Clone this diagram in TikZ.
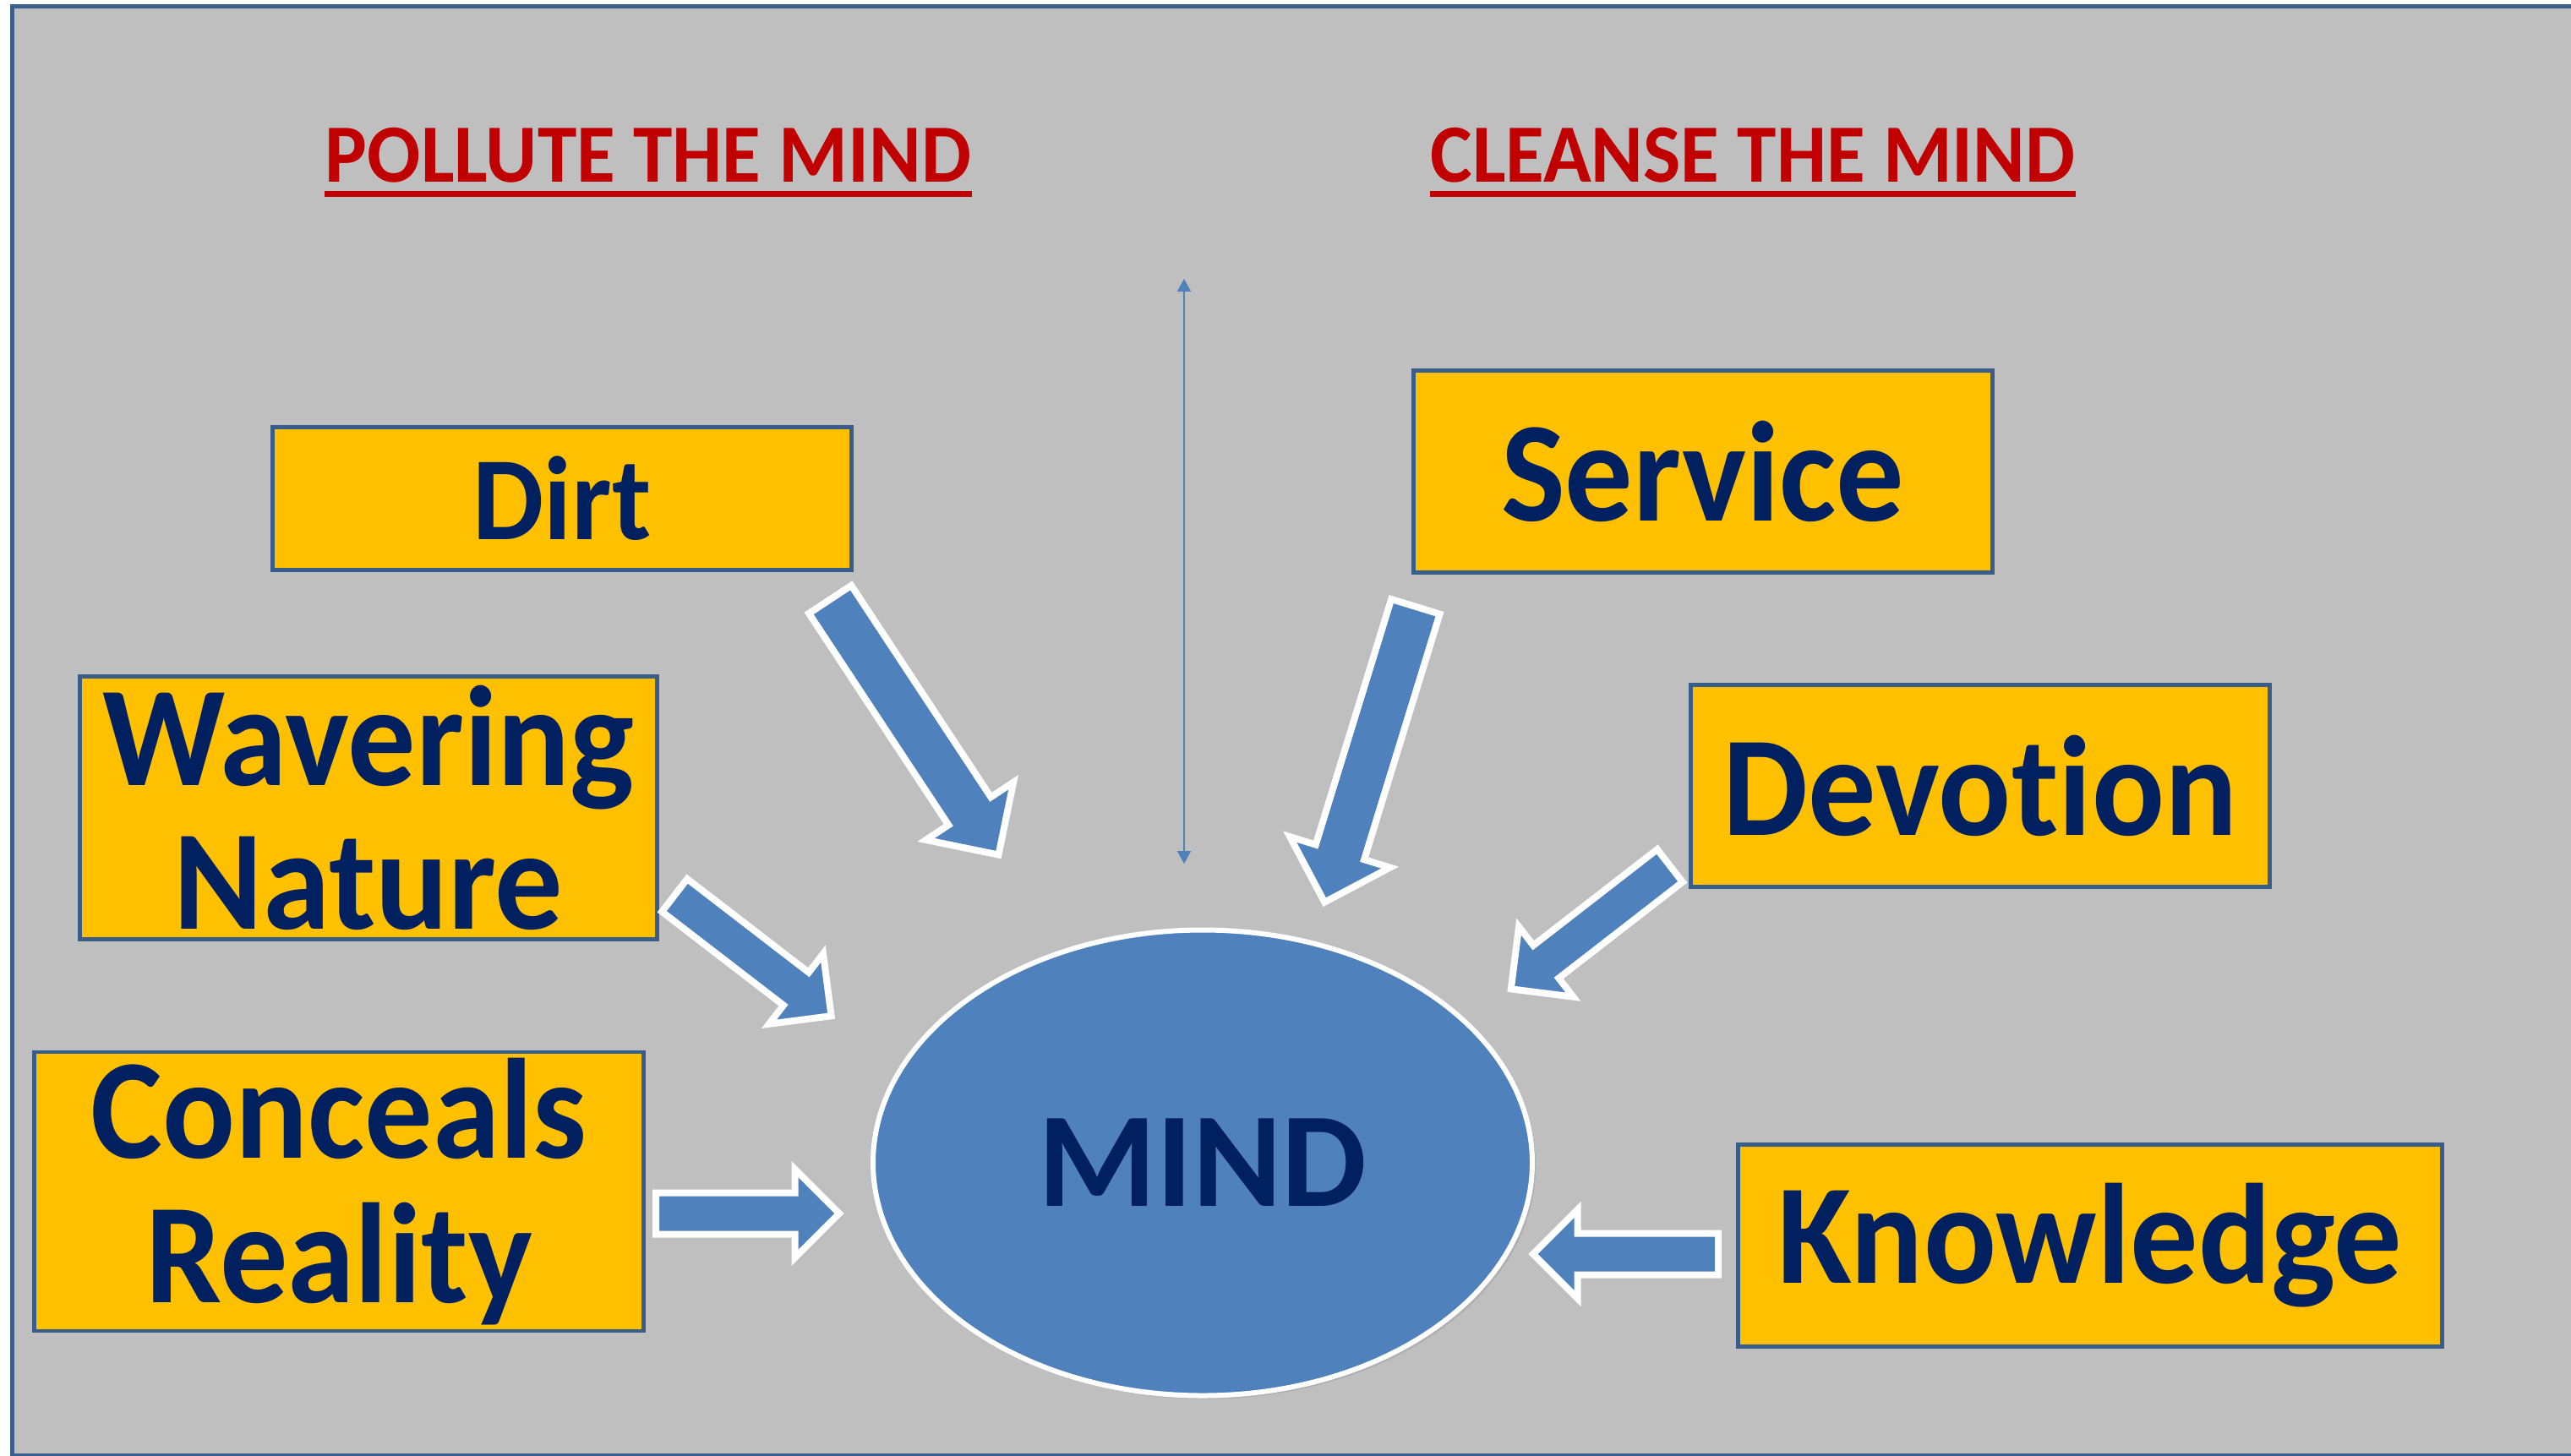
\documentclass[tikz,border=0pt]{standalone}
\usepackage{fontspec}
\setmainfont[Ligatures=NoCommon]{Carlito}
\newfontfamily\boxfont[FakeStretch=0.95,Ligatures=NoCommon]{Carlito}
\newfontfamily\headfont[FakeStretch=0.955,Ligatures=NoCommon]{Carlito}
\usetikzlibrary{positioning,shapes,arrows.meta,shadows}
\definecolor{slidegray}{HTML}{BFBFBF}
\definecolor{frameblue}{HTML}{3B5F8C}
\definecolor{boxgold}{HTML}{FFC000}
\definecolor{boxedge}{HTML}{385D8A}
\definecolor{navytext}{HTML}{002060}
\definecolor{mindblue}{HTML}{4F81BD}
\definecolor{titlered}{HTML}{C00000}
\tikzstyle{topic} = [rectangle, draw=boxedge, line width=1.2pt, fill=boxgold, text=navytext, align=center, inner sep=0pt, font=\boxfont\bfseries\fontsize{48}{48.6}\selectfont]
\tikzstyle{heading} = [text=titlered, inner sep=0pt, anchor=base, font=\headfont\bfseries\fontsize{27.9}{30}\selectfont]
\tikzstyle{headline} = [titlered, line width=0.07cm]
\tikzstyle{mind} = [ellipse, draw=white, line width=0.06cm, fill=mindblue, text=navytext, minimum width=7.8cm, minimum height=5.51cm, font=\bfseries\fontsize{45.5}{46}\selectfont, drop shadow={opacity=0.25, shadow xshift=0.04cm, shadow yshift=-0.04cm}]
\tikzstyle{flow} = [single arrow, draw=white, line width=0.08cm, fill=mindblue, anchor=tail, inner xsep=0pt, single arrow tip angle=90, single arrow head indent=0pt, drop shadow={opacity=0.25, shadow xshift=0.03cm, shadow yshift=-0.03cm}]
\tikzstyle{bigflow} = [flow, inner ysep=0.26cm, single arrow head extend=0.32cm]
\tikzstyle{smallflow} = [flow, inner ysep=0.205cm, single arrow head extend=0.28cm]
\tikzstyle{divider} = [mindblue, line width=0.02cm, {Triangle[width=0.16cm,length=0.15cm]}-{Triangle[width=0.16cm,length=0.15cm]}]

\begin{document}
\begin{tikzpicture}
	\useasboundingbox (0,0) rectangle (30.42,-17.22);
	\clip (0,0) rectangle (30.42,-17.22);
	\fill[slidegray] (0.145,-0.075) rectangle (30.6,-17.22);
	\draw[frameblue, line width=0.05cm] (0.145,-0.075) rectangle (30.6,-17.22);
	%-----------------------------------------------
	\node (pollute) [heading] at (7.67,-2.15) {POLLUTE THE MIND};
	\node (cleanse) [heading] at (20.74,-2.15) {CLEANSE THE MIND};
	\draw [headline] ([yshift=-0.14cm]pollute.base west) -- ([yshift=-0.14cm]pollute.base east);
	\draw [headline] ([yshift=-0.14cm]cleanse.base west) -- ([yshift=-0.14cm]cleanse.base east);
	%-----------------------------------------------
	\node (dirt) [topic, minimum width=6.85cm, minimum height=1.69cm, font=\boxfont\bfseries\fontsize{40}{41}\selectfont] at (6.65,-5.90) {Dirt};
	\node (wavering) [topic, minimum width=6.83cm, minimum height=3.11cm] at (4.36,-9.56) {Wavering\\Nature};
	\node (conceals) [topic, minimum width=7.21cm, minimum height=3.30cm] at (4.01,-14.10) {Conceals\\Reality};
	\node (service) [topic, minimum width=6.85cm, minimum height=2.39cm] at (20.15,-5.58) {Service};
	\node (devotion) [topic, minimum width=6.85cm, minimum height=2.39cm] at (23.43,-9.30) {Devotion};
	\node (knowledge) [topic, minimum width=8.33cm, minimum height=2.39cm] at (24.73,-14.74) {Knowledge};
	\node (themind) [mind] at (14.23,-13.76) {MIND};
	%-----------------------------------------------
	\node (dirtarrow) [bigflow, minimum height=3.62cm, rotate=-56.6] at (9.80,-7.06) {};
	\node (wavearrow) [smallflow, minimum height=2.34cm, rotate=-37.6] at (7.95,-10.57) {};
	\node (concealarrow) [smallflow, minimum height=2.17cm] at (7.72,-14.36) {};
	\node (servicearrow) [bigflow, minimum height=3.66cm, rotate=-107.1] at (16.76,-7.14) {};
	\node (devotionarrow) [smallflow, minimum height=2.38cm, rotate=-142.2] at (19.79,-10.22) {};
	\node (knowarrow) [smallflow, minimum height=2.19cm, rotate=180] at (20.37,-14.84) {};
	%-----------------------------------------------
	\coordinate (dividetop) at (14.01,-3.30);
	\coordinate (dividebottom) at (14.01,-10.22);
	\draw [divider] (dividetop) -- (dividebottom);
\end{tikzpicture}
\end{document}
